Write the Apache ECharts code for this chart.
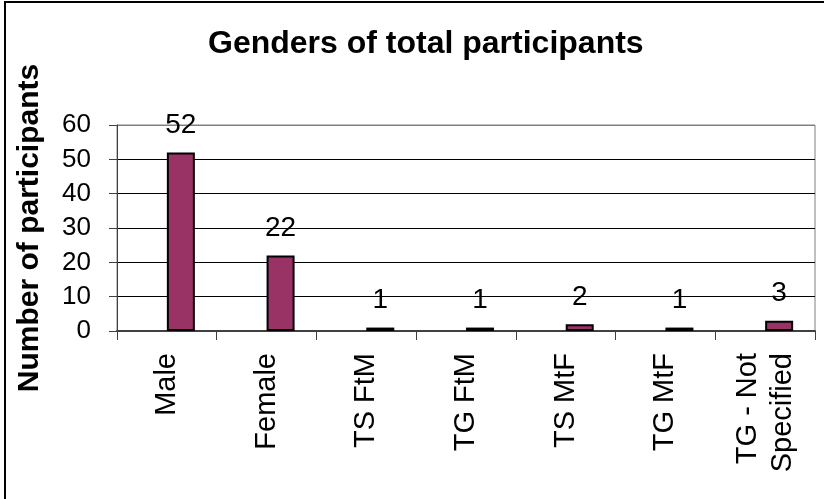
<!DOCTYPE html>
<html>
<head>
<meta charset="utf-8">
<script src="https://cdn.jsdelivr.net/npm/echarts@6/dist/echarts.min.js"></script>
<style>
  html, body { margin: 0; padding: 0; background: #fff; overflow: hidden; }
  #main { width: 824px; height: 499px; }
</style>
</head>
<body>
<div id="main"></div>
<script>
// data
var categories = ['Male', 'Female', 'TS FtM', 'TG FtM', 'TS MtF', 'TG MtF', 'TG - Not\nSpecified'];
var participants = [52, 22, 1, 1, 2, 1, 3];
var yTicks = [0, 10, 20, 30, 40, 50, 60];

var FONT = 'Liberation Sans, Arial, sans-serif';
var chart = echarts.init(document.getElementById('main'), null, { renderer: 'canvas' });

// gridlines black, top one grey like the plot border
var gridColors = yTicks.map(function (v, i) {
  return i === yTicks.length - 1 ? '#808080' : '#000';
});

var option = {
  backgroundColor: '#fff',
  animation: false,
  textStyle: { fontFamily: FONT },
  graphic: [{
    type: 'rect',
    silent: true,
    shape: { x: 5, y: 2, width: 900, height: 600 },
    style: { fill: null, stroke: '#000', lineWidth: 2 }
  }],
  title: {
    text: 'Genders of total participants',
    left: 203,
    top: 23,
    textStyle: { fontSize: 32, fontWeight: 'bold', color: '#000', fontFamily: FONT }
  },
  grid: {
    left: 117,
    right: 9,
    top: 125,
    bottom: 168,
    show: true,
    borderColor: '#808080',
    borderWidth: 1
  },
  xAxis: {
    type: 'category',
    data: categories,
    axisLine: { lineStyle: { color: '#404040', width: 2 } },
    axisTick: { show: true, length: 9, alignWithLabel: false, lineStyle: { color: '#404040', width: 1 } },
    axisLabel: {
      rotate: 90,
      margin: 22,
      fontSize: 29,
      color: '#000',
      lineHeight: 35,
      fontFamily: FONT
    }
  },
  yAxis: {
    type: 'value',
    min: yTicks[0],
    max: yTicks[yTicks.length - 1],
    interval: 10,
    name: 'Number of participants',
    nameLocation: 'middle',
    nameGap: 72,
    nameTextStyle: { fontSize: 30, fontWeight: 'bold', color: '#000', fontFamily: FONT },
    axisLine: { show: true, lineStyle: { color: '#404040', width: 1 } },
    axisTick: { show: true, length: 8, lineStyle: { color: '#404040' } },
    axisLabel: { fontSize: 26, color: '#000', margin: 26, fontFamily: FONT },
    splitLine: { show: true, lineStyle: { color: gridColors, width: 1 } }
  },
  series: [{
    // empty first series: the bars sit right of each category centre
    type: 'bar',
    name: 'blank',
    data: participants.map(function () { return null; }),
    barWidth: 28,
    barGap: '0%'
  }, {
    type: 'bar',
    name: 'Participants',
    data: participants,
    barWidth: 28,
    barGap: '0%',
    itemStyle: { color: '#993366', borderColor: '#000', borderWidth: 2 },
    label: {
      show: true,
      position: 'top',
      distance: 13,
      fontSize: 28,
      color: '#000',
      fontFamily: FONT
    }
  }]
};

chart.setOption(option);
</script>
</body>
</html>
